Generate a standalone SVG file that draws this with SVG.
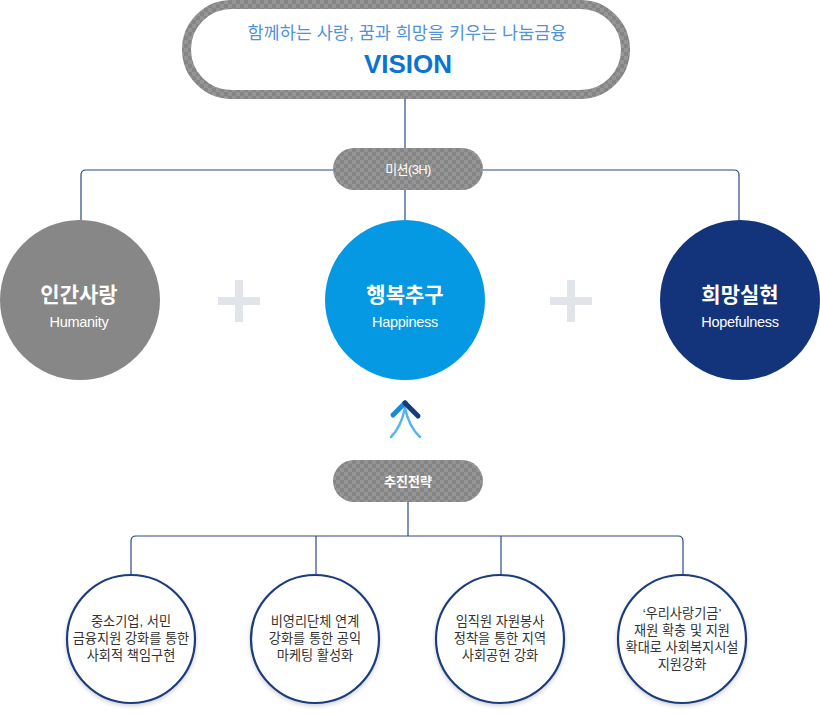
<svg xmlns="http://www.w3.org/2000/svg" width="820" height="715" viewBox="0 0 820 715">
<defs>
  <pattern id="chk" width="8" height="8" patternUnits="userSpaceOnUse">
    <rect width="8" height="8" fill="#858585"/>
    <rect width="4" height="4" fill="#959595"/>
    <rect x="4" y="4" width="4" height="4" fill="#959595"/>
  </pattern>
  <filter id="sh" x="-20%" y="-20%" width="140%" height="150%">
    <feDropShadow dx="0" dy="2" stdDeviation="2" flood-color="#000" flood-opacity="0.18"/>
  </filter>
</defs>
<style>
  text { font-family: "Liberation Sans", "Noto Sans CJK KR", sans-serif; text-anchor: middle; }
  .line { fill: none; stroke: #2a4883; stroke-width: 1.2; }
  .pill { fill: url(#chk); }
  .pilltxt { fill: #ffffff; font-size: 13px; }
  .big { font-size: 21px; font-weight: bold; fill: #ffffff; }
  .sub { font-size: 14.5px; fill: #ffffff; letter-spacing: -0.3px; }
  .plus { fill: #e1e5ea; }
  .sc { fill: #ffffff; stroke: #1d3c7c; stroke-width: 2.2; filter: url(#sh); }
  .st { font-size: 13.2px; fill: #333333; }
</style>

<g id="connectors">
  <path class="line" d="M405,99 V148"/>
  <path class="line" d="M333,170 H86 Q81,170 81,175 V220"/>
  <path class="line" d="M483,170 H734 Q739,170 739,175 V220"/>
  <path class="line" d="M405,190 V220"/>
  <path class="line" d="M408,502 V536"/>
  <path class="line" d="M683,574 V541 Q683,536 678,536 H136 Q131,536 131,541 V574"/>
  <path class="line" d="M316,536 V574"/>
  <path class="line" d="M501,536 V574"/>
</g>

<g id="vision">
  <rect x="186.5" y="4.5" width="439" height="90" rx="45" ry="45" fill="#ffffff" stroke="url(#chk)" stroke-width="9"/>
  <text x="407" y="39" style="font-size:17.5px; fill:#4f93d8;">함께하는 사랑, 꿈과 희망을 키우는 나눔금융</text>
  <text x="408" y="73" style="font-size:26px; font-weight:bold; fill:#0a74d0;">VISION</text>
</g>

<g id="mission">
  <rect class="pill" x="333" y="148" width="150" height="42" rx="21" ry="21"/>
  <text class="pilltxt" x="408" y="174" style="letter-spacing:-0.6px;">미션(3H)</text>
</g>

<g id="humanity">
  <circle cx="80" cy="300" r="80" fill="#878787"/>
  <text class="big" x="79" y="302">인간사랑</text>
  <text class="sub" x="79" y="327">Humanity</text>
</g>

<g id="plus1">
  <rect class="plus" x="218" y="297" width="42" height="8"/>
  <rect class="plus" x="235" y="280" width="8" height="42"/>
</g>

<g id="happiness">
  <circle cx="405" cy="300" r="80" fill="#0499e2"/>
  <text class="big" x="405" y="302">행복추구</text>
  <text class="sub" x="405" y="327">Happiness</text>
</g>

<g id="plus2">
  <rect class="plus" x="550" y="297" width="42" height="8"/>
  <rect class="plus" x="567" y="280" width="8" height="42"/>
</g>

<g id="hopefulness">
  <circle cx="740" cy="300" r="80" fill="#13347a"/>
  <text class="big" x="740" y="302">희망실현</text>
  <text class="sub" x="740" y="327">Hopefulness</text>
</g>

<g id="arrow">
  <path d="M405,408 Q401,427 391,437" fill="none" stroke="#55b5ec" stroke-width="2.5" stroke-linecap="round"/>
  <path d="M405,408 Q409,427 420,437" fill="none" stroke="#55b5ec" stroke-width="2.5" stroke-linecap="round"/>
  <path d="M393,415 L405,403" fill="none" stroke="#1a8ad8" stroke-width="5" stroke-linecap="round"/>
  <path d="M405,403 L418,416" fill="none" stroke="#163a7c" stroke-width="5" stroke-linecap="round"/>
</g>

<g id="strategy">
  <rect class="pill" x="333" y="460" width="150" height="42" rx="21" ry="21"/>
  <text class="pilltxt" x="408" y="486" style="font-weight:bold;">추진전략</text>
</g>

<g id="s1">
  <circle class="sc" cx="131" cy="639" r="64"/>
  <text class="st" x="131" y="626">중소기업, 서민</text>
  <text class="st" x="131" y="643">금융지원 강화를 통한</text>
  <text class="st" x="131" y="660">사회적 책임구현</text>
</g>

<g id="s2">
  <circle class="sc" cx="315" cy="639" r="64"/>
  <text class="st" x="315" y="626">비영리단체 연계</text>
  <text class="st" x="315" y="643">강화를 통한 공익</text>
  <text class="st" x="315" y="660">마케팅 활성화</text>
</g>

<g id="s3">
  <circle class="sc" cx="500" cy="639" r="64"/>
  <text class="st" x="500" y="626">임직원 자원봉사</text>
  <text class="st" x="500" y="643">정착을 통한 지역</text>
  <text class="st" x="500" y="660">사회공헌 강화</text>
</g>

<g id="s4">
  <circle class="sc" cx="682" cy="639" r="64"/>
  <text class="st" x="682" y="618">‘우리사랑기금’</text>
  <text class="st" x="682" y="635">재원 확충 및 지원</text>
  <text class="st" x="682" y="652">확대로 사회복지시설</text>
  <text class="st" x="682" y="669">지원강화</text>
</g>
</svg>
